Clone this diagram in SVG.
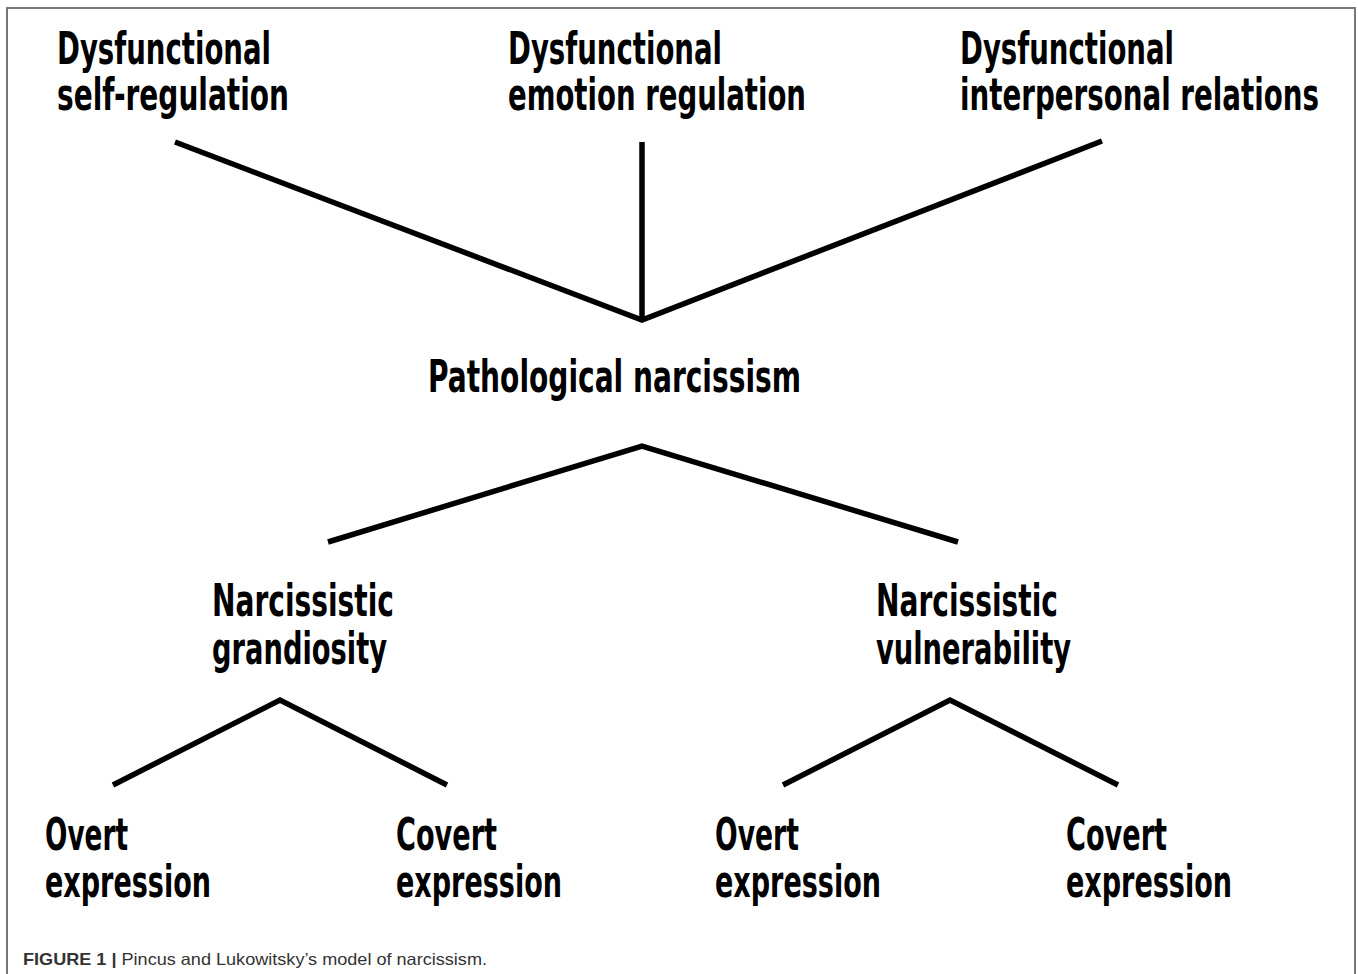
<svg xmlns="http://www.w3.org/2000/svg" width="1358" height="974" viewBox="0 0 1358 974">
<style>
.t{font-family:"DejaVu Sans Condensed","Liberation Sans",sans-serif;font-weight:bold;font-size:44px;fill:#000}
.c{stroke:#000;stroke-width:5.5;fill:none;stroke-linejoin:miter;stroke-linecap:butt}
.cap{font-family:"Liberation Sans",Arial,sans-serif;font-size:16.5px;fill:#333}
</style>
<rect width="1358" height="974" fill="#fff"/>
<path d="M7,975 V8 H1355 V975" fill="none" stroke="#777" stroke-width="2"/>
<g id="connectors">
<polyline class="c" points="175,142 642,320 1102,141"/>
<line class="c" x1="642" y1="142" x2="642" y2="320"/>
<polyline class="c" points="328,542 642,446 958,542"/>
<polyline class="c" points="113,785 280,700 447,785"/>
<polyline class="c" points="783,785 950,700 1118,785"/>
</g>
<g id="self-regulation">
<text class="t" x="57" y="64" textLength="214" lengthAdjust="spacingAndGlyphs">Dysfunctional</text>
<text class="t" x="57" y="110" textLength="232" lengthAdjust="spacingAndGlyphs">self-regulation</text>
</g>
<g id="emotion-regulation">
<text class="t" x="508" y="64" textLength="214" lengthAdjust="spacingAndGlyphs">Dysfunctional</text>
<text class="t" x="508" y="110" textLength="298" lengthAdjust="spacingAndGlyphs">emotion regulation</text>
</g>
<g id="interpersonal-relations">
<text class="t" x="960" y="64" textLength="214" lengthAdjust="spacingAndGlyphs">Dysfunctional</text>
<text class="t" x="960" y="110" textLength="359" lengthAdjust="spacingAndGlyphs">interpersonal relations</text>
</g>
<g id="pathological-narcissism">
<text class="t" x="428" y="392" textLength="373" lengthAdjust="spacingAndGlyphs">Pathological narcissism</text>
</g>
<g id="grandiosity">
<text class="t" x="212" y="616" textLength="182" lengthAdjust="spacingAndGlyphs">Narcissistic</text>
<text class="t" x="212" y="664" textLength="175" lengthAdjust="spacingAndGlyphs">grandiosity</text>
</g>
<g id="vulnerability">
<text class="t" x="876" y="616" textLength="182" lengthAdjust="spacingAndGlyphs">Narcissistic</text>
<text class="t" x="876" y="664" textLength="195" lengthAdjust="spacingAndGlyphs">vulnerability</text>
</g>
<g id="grandiosity-overt">
<text class="t" x="45" y="850" textLength="83" lengthAdjust="spacingAndGlyphs">Overt</text>
<text class="t" x="45" y="897" textLength="166" lengthAdjust="spacingAndGlyphs">expression</text>
</g>
<g id="grandiosity-covert">
<text class="t" x="396" y="850" textLength="101" lengthAdjust="spacingAndGlyphs">Covert</text>
<text class="t" x="396" y="897" textLength="166" lengthAdjust="spacingAndGlyphs">expression</text>
</g>
<g id="vulnerability-overt">
<text class="t" x="715" y="850" textLength="84" lengthAdjust="spacingAndGlyphs">Overt</text>
<text class="t" x="715" y="897" textLength="166" lengthAdjust="spacingAndGlyphs">expression</text>
</g>
<g id="vulnerability-covert">
<text class="t" x="1066" y="850" textLength="101" lengthAdjust="spacingAndGlyphs">Covert</text>
<text class="t" x="1066" y="897" textLength="166" lengthAdjust="spacingAndGlyphs">expression</text>
</g>
<text class="cap" x="23" y="965" textLength="464" lengthAdjust="spacingAndGlyphs"><tspan font-weight="bold">FIGURE 1 |</tspan> Pincus and Lukowitsky’s model of narcissism.</text>
</svg>
